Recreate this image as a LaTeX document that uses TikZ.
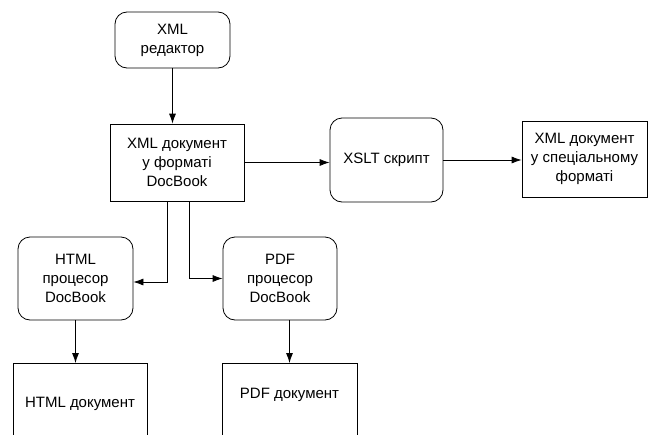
\documentclass[tikz,border=0pt]{standalone}
\usepackage{fontspec}
\setmainfont{Liberation Sans}
\usetikzlibrary{arrows.meta}
\begin{document}
\begin{tikzpicture}[x=1pt,y=-1pt,
  every node/.style={font=\fontsize{15}{19}\selectfont, align=center, inner sep=0pt},
  proc/.style={draw, rounded corners=12pt, line width=0.8pt},
  docbox/.style={draw, line width=0.8pt},
  conn/.style={line width=0.8pt, -{Latex[length=10pt,width=7pt]}}]
\useasboundingbox (0,0) rectangle (648,434);
\clip (0,0) rectangle (648,434);
\node[proc, minimum width=115pt, minimum height=56pt] (ed) at (172.5,40) {XML\\редактор};
\node[docbox, minimum width=134pt, minimum height=77pt] (doc) at (177,162.5) {XML документ\\у форматі\\DocBook};
\node[proc, minimum width=113pt, minimum height=84pt] (xslt) at (386.5,160) {XSLT скрипт};
\node[docbox, minimum width=125pt, minimum height=76pt] (spec) at (584.5,159) {XML документ\\у спеціальному\\форматі};
\node[proc, minimum width=115pt, minimum height=83pt] (hp) at (75.5,278.5) {HTML\\процесор\\DocBook};
\node[proc, minimum width=114pt, minimum height=83pt] (pp) at (280,278.5) {PDF\\процесор\\DocBook};
\node[docbox, anchor=north, minimum width=134pt, text height=44pt, text depth=63pt] (hd) at (80,363) {HTML документ};
\node[docbox, anchor=north, minimum width=135pt, text height=35pt, text depth=72pt] (pd) at (289.5,363) {PDF документ};
\draw[conn] (ed.south) -- (ed.south |- doc.north);
\draw[conn] (doc.east) -- (doc.east -| xslt.west);
\draw[conn] (xslt.east) -- (xslt.east -| spec.west);
\draw[conn] ([xshift=-10pt]doc.south) |- ([yshift=-3.5pt]hp.east);
\draw[conn] ([xshift=12pt]doc.south) |- (pp.west);
\draw[conn] (hp.south) -- (hp.south |- hd.north);
\draw[conn] (pd.north |- pp.south) -- (pd.north);
\end{tikzpicture}
\end{document}
